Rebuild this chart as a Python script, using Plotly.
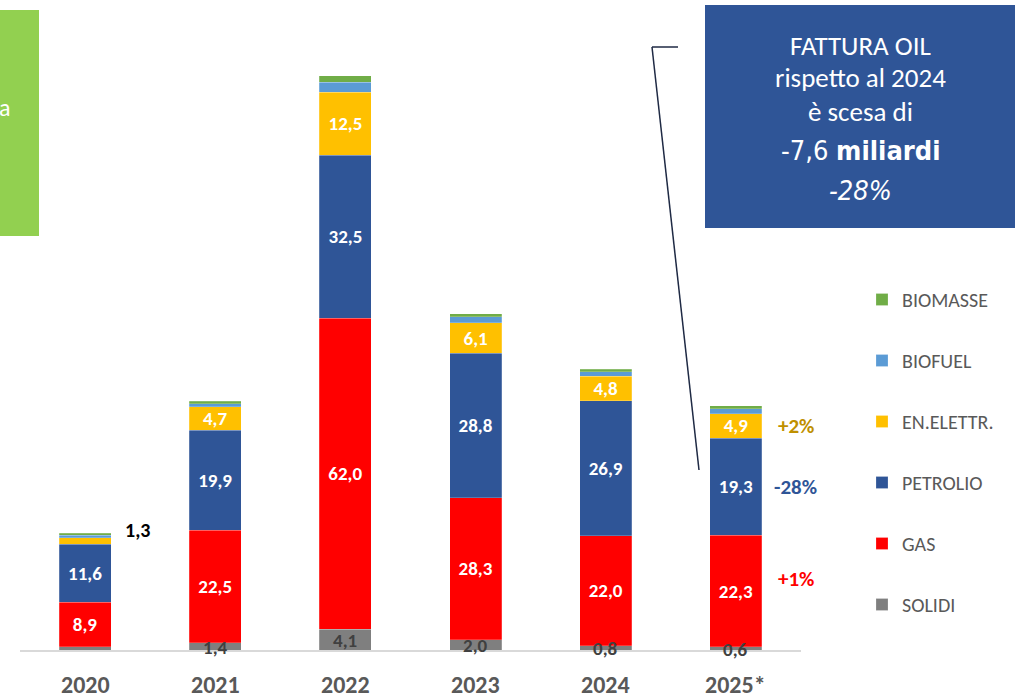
import plotly.graph_objects as go

years = ["2020", "2021", "2022", "2023", "2024", "2025*"]
solidi = [0.6, 1.4, 4.1, 2.0, 0.8, 0.6]
gas = [8.9, 22.5, 62.0, 28.3, 22.0, 22.3]
petrolio = [11.6, 19.9, 32.5, 28.8, 26.9, 19.3]
en_elettr = [1.3, 4.7, 12.5, 6.1, 4.8, 4.9]
biofuel = [0.5, 0.6, 2.0, 1.2, 0.9, 1.0]
biomasse = [0.4, 0.5, 1.3, 0.6, 0.5, 0.6]

series_names = ["SOLIDI", "GAS", "PETROLIO", "EN.ELETTR.", "BIOFUEL", "BIOMASSE"]
series_values = [solidi, gas, petrolio, en_elettr, biofuel, biomasse]
colors = ["#7F7F7F", "#FF0000", "#2F5597", "#FFC000", "#5B9BD5", "#70AD47"]

change_labels = ["+2%", "-28%", "+1%"]
change_colors = ["#BF9000", "#2F5597", "#FF0000"]

box_lines = ["FATTURA OIL", "rispetto al 2024", "è scesa di"]

FONT = "Carlito, Lato, Noto Sans, sans-serif"
NARROW = "Liberation Sans Narrow, DejaVu Sans Condensed, Roboto, sans-serif"

W, H = 1015, 699
# plot area in page pixels
L, R, T, B = 20, 801, 40, 650
PXU = 5.02  # pixels per unit

def px(x):
    return (x - L) / (R - L)
def py(y):
    return (B - y) / (B - T)

def fmt(v):
    return f"{v:.1f}".replace(".", ",")

fig = go.Figure()
for i, (name, vals, col) in enumerate(zip(series_names, series_values, colors)):
    if name in ("GAS", "PETROLIO"):
        text = [fmt(v) for v in vals]
    elif name == "EN.ELETTR.":
        text = [""] + [fmt(v) for v in vals[1:]]
    else:
        text = ["" for _ in vals]
    fig.add_trace(go.Bar(
        x=years, y=vals, name=name,
        marker=dict(color=col, line=dict(color="rgba(255,255,255,0.35)", width=0.6)),
        text=text, textposition="inside", insidetextanchor="middle",
        constraintext="none",
        textfont=dict(color="white", size=19, family=FONT),
        legendgroup=name, legendrank=len(series_names) - i,
    ))

# SOLIDI labels (dark gray, centered on segment)
for k in range(1, len(years)):
    v = solidi[k]
    fig.add_annotation(x=k, y=v / 2, text="<b>" + fmt(v) + "</b>", showarrow=False,
                       font=dict(color="#404040", size=19, family=FONT), yshift=-1)

# year labels
for k, yr in enumerate(years):
    fig.add_annotation(x=k, xref="x", yref="paper", y=py(684), text="<b>" + yr + "</b>",
                       showarrow=False, yanchor="middle",
                       font=dict(color="#595959", size=24, family=FONT))

# 2020 EN.ELETTR outside label
mid2020 = solidi[0] + gas[0] + petrolio[0] + en_elettr[0] / 2
fig.add_annotation(x=0, y=mid2020, text="<b>" + fmt(en_elettr[0]) + "</b>",
                   showarrow=False, xshift=52, yshift=11,
                   font=dict(color="black", size=20, family=FONT))

# change labels on 2025
mids = [
    solidi[5] + gas[5] + petrolio[5] + en_elettr[5] / 2,
    solidi[5] + gas[5] + petrolio[5] / 2,
    solidi[5] + gas[5] / 2,
]
yshifts = [0, 0, 12]
for lab, col, m, ys in zip(change_labels, change_colors, mids, yshifts):
    fig.add_annotation(x=5, y=m, text="<b>" + lab + "</b>", showarrow=False,
                       xshift=60, yshift=ys, font=dict(color=col, size=21, family=FONT))

# green box at left
fig.add_shape(type="rect", xref="paper", yref="paper",
              x0=px(-2), x1=px(39), y0=py(236), y1=py(10),
              fillcolor="#92D050", line=dict(width=0))
fig.add_annotation(xref="paper", yref="paper", x=px(13), y=py(108), text="a",
                   xanchor="right", yanchor="middle", showarrow=False,
                   font=dict(color="white", size=24, family=FONT))

# blue annotation box
fig.add_shape(type="rect", xref="paper", yref="paper",
              x0=px(705), x1=px(1016), y0=py(228), y1=py(5),
              fillcolor="#2F5597", line=dict(width=0))
line_ys = [45, 77, 111]
for t, yy in zip(box_lines, line_ys):
    fig.add_annotation(xref="paper", yref="paper", x=px(860), y=py(yy), text=t,
                       xanchor="center", yanchor="middle", showarrow=False,
                       font=dict(color="white", size=27, family=FONT))
fig.add_annotation(xref="paper", yref="paper", x=px(860), y=py(151),
                   text="-7,6 <b>miliardi</b>", xanchor="center", yanchor="middle",
                   showarrow=False, font=dict(color="white", size=27, family=NARROW))
fig.add_annotation(xref="paper", yref="paper", x=px(860), y=py(190),
                   text="<i>-28%</i>", xanchor="center", yanchor="middle",
                   showarrow=False, font=dict(color="white", size=27, family=NARROW))

# connector line
fig.add_shape(type="line", xref="paper", yref="paper",
              x0=px(678), y0=py(47), x1=px(652), y1=py(47),
              line=dict(color="#1F2A44", width=1.5))
fig.add_shape(type="line", xref="paper", yref="paper",
              x0=px(652), y0=py(47), x1=px(699), y1=py(470),
              line=dict(color="#1F2A44", width=1.5))

fig.update_layout(
    width=W, height=H,
    margin=dict(l=L, r=W - R, t=T, b=H - B),
    paper_bgcolor="white", plot_bgcolor="white",
    barmode="stack", bargap=0.6,
    separators=",.",
    showlegend=True,
    legend=dict(x=px(862), y=py(280), xanchor="left", yanchor="top",
                traceorder="grouped", tracegroupgap=32,
                font=dict(color="#595959", size=20, family=FONT),
                bgcolor="rgba(0,0,0,0)"),
    xaxis=dict(type="category", range=[-0.5, len(years) - 0.5], autorange=False,
               showline=True, linecolor="#D9D9D9", linewidth=1.5,
               ticks="", showticklabels=False, showgrid=False),
    yaxis=dict(range=[0, (B - T) / PXU], autorange=False, visible=False,
               showgrid=False, zeroline=False),
    font=dict(family=FONT),
)
fig.update_traces(texttemplate="<b>%{text}</b>")

fig.write_html("out.html", config={"displayModeBar": False},
               post_script="document.body.style.margin='0';document.body.style.overflow='hidden';")
